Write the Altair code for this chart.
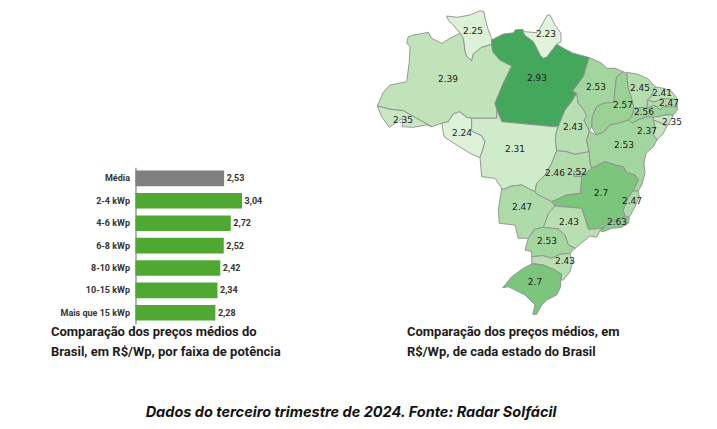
import altair as alt

# ---- bar chart values ----
FAIXAS = ["Média", "2-4 kWp", "4-6 kWp", "6-8 kWp", "8-10 kWp", "10-15 kWp", "Mais que 15 kWp"]
PRECOS = [2.53, 3.04, 2.72, 2.52, 2.42, 2.34, 2.28]

# ---- state values ----
UF = ["RR", "AP", "AM", "PA", "AC", "RO", "MT", "TO", "MA", "PI", "CE", "RN", "PB", "PE", "AL", "SE",
      "BA", "GO", "DF", "MG", "ES", "RJ", "SP", "MS", "PR", "SC", "RS"]
VALOR = [2.25, 2.23, 2.39, 2.93, 2.35, 2.24, 2.31, 2.43, 2.53, 2.57, 2.45, 2.41, 2.47, 2.56, 2.35, 2.37,
         2.53, 2.46, 2.52, 2.7, 2.47, 2.63, 2.43, 2.47, 2.53, 2.43, 2.7]

# state outlines and label anchors (map units)
CONTORNO = {
    "RR": [(446.7,16),(457,17.3),(470,15),(480,10.7),(484,11.7),(485,18),(488.3,30),(491.7,38.3),(491.7,44.3),(481.7,47.3),(473.3,54),(471.7,60.7),(466.7,56.7),(465,51.7),(463.3,38.3),(460,33.3),(453.3,25),(448.3,20)],
    "AP": [(522.3,29.3),(524.3,35),(533.3,41.7),(540,55),(543.3,58.3),(546.7,57.3),(556.7,44.3),(561,41.7),(561,33.3),(555,25),(550,15),(547.3,15),(540,28.3),(536.7,32.7),(525,31.7)],
    "AM": [(377.3,106),(383.3,92.3),(390,85),(406.7,81.7),(409.3,61.7),(410,46.7),(406.7,43.3),(408.3,36.7),(413.3,35),(423.3,33.3),(428.3,32.3),(431.7,38.3),(441.7,43.3),(450,38.3),(460,33.3),(463.3,38.3),(465,51.7),(466.7,56.7),(471.7,60.7),(473.3,54),(481.7,47.3),(491.7,44.3),(492.7,51.7),(500,60),(511.7,66),(503.3,83.3),(495,103.3),(497,110),(496.7,118.3),(471.7,118.3),(466.7,117.3),(459.3,111.7),(453.3,114),(448.3,121.7),(441.7,123.3),(431.7,126.7),(416.7,118.3),(403.3,110.7),(390,109.3)],
    "PA": [(491.7,40),(503.3,34),(514,32.7),(515,30),(522.3,29.3),(524.3,35),(533.3,41.7),(540,55),(543.3,58.3),(546.7,57.3),(556.7,44.3),(566.7,50),(573.3,53.3),(589.3,57.5),(583.3,76.7),(572.7,91),(576.7,93.3),(571.7,101.7),(565,110),(558.3,126.7),(553.3,126.7),(501.7,121.7),(497,110),(495,103.3),(503.3,83.3),(511.7,66),(500,60),(492.7,51.7),(491.7,44.3)],
    "AC": [(377.3,106),(381.7,116.7),(389.3,127.3),(402.3,118.3),(402.3,126.7),(413.3,127.3),(426.7,125),(431.7,126.7),(416.7,118.3),(403.3,110.7),(390,109.3)],
    "RO": [(441.7,123.3),(444,136.7),(456.7,145),(470,153.3),(480,157.7),(482.7,150),(485,141.7),(481.7,135.7),(471.7,131),(471.7,118.3),(466.7,117.3),(459.3,111.7),(453.3,114),(448.3,121.7)],
    "MT": [(471.7,118.3),(496.7,118.3),(497,110),(501.7,121.7),(553.3,126.7),(558.3,126.7),(556,133.3),(555.3,140),(556.7,150.7),(551.7,163.3),(545,175),(536.7,183.3),(535,191.7),(530,189.3),(521.7,185),(511.7,186),(503.3,189.3),(501.7,188.3),(495,178.3),(481.7,176.7),(480,157.7),(482.7,150),(485,141.7),(481.7,135.7),(471.7,131)],
    "TO": [(576.7,93.3),(578.3,103.3),(585,111.7),(586.7,116.7),(584,120),(589.3,131),(586.7,140),(589,151.7),(575,154.3),(566.7,151.7),(556.7,150.7),(555.3,140),(556,133.3),(558.3,126.7),(565,110),(571.7,101.7)],
    "MA": [(589.3,57.5),(601.7,63.3),(606.7,68.3),(615,68.3),(623.3,71.7),(616.7,76.7),(615,88.3),(614,102.3),(603.3,103.3),(596.7,106.7),(592.3,116.7),(591.7,126.7),(589.3,131),(584,120),(586.7,116.7),(585,111.7),(578.3,103.3),(576.7,93.3),(572.7,91),(583.3,76.7)],
    "PI": [(623.3,71.7),(626.7,73.3),(628.3,88.3),(631.7,98.3),(634,108.3),(631.7,116.7),(628.3,120),(618.3,123.3),(610,125),(603.3,132.3),(596,135),(591.7,126.7),(592.3,116.7),(596.7,106.7),(603.3,103.3),(614,102.3),(615,88.3),(616.7,76.7)],
    "CE": [(626.7,72.3),(638.3,74.3),(648.3,79),(655,86.7),(651,97),(647.3,100),(647.3,108.3),(640,107.7),(634,108.3),(631.7,98.3),(628.3,88.3)],
    "RN": [(655,86.7),(663.3,88.3),(671,90.7),(676.7,97.7),(677,99.5),(666.7,99),(661.7,98.5),(655,102),(647.3,100),(651,97)],
    "PB": [(647.3,100),(655,102),(661.7,98.5),(677,99.5),(677.3,106.7),(663.3,106.7),(660,110),(657.3,106.7),(653.3,105.7),(647.3,108.3)],
    "PE": [(634,108.3),(640,107.7),(647.3,108.3),(653.3,105.7),(657.3,106.7),(660,110),(663.3,106.7),(677.3,106.7),(677.3,110),(673.3,115),(665,115),(658.3,116.7),(653.3,117),(647.3,116.7),(640,119),(632,123),(628.3,120),(631.7,116.7)],
    "AL": [(653.3,117),(658.3,116.7),(665,115),(673.3,115),(671,120),(666.7,126.7),(661.7,123.3),(653.3,120)],
    "SE": [(653.3,120),(661.7,123.3),(666.7,126.7),(663.3,133.3),(657,140),(653.3,135),(655,127)],
    "BA": [(589.3,131),(596,135),(603.3,132.3),(610,125),(618.3,123.3),(628.3,120),(632,123),(640,119),(647.3,116.7),(653.3,117),(653.3,120),(655,127),(653.3,135),(657,140),(653.3,146.7),(646,153.3),(644,163.3),(645,173.3),(641.7,185),(638.3,191),(632.7,191),(638.3,180),(635,175),(626.7,172.7),(623.3,166.7),(615,165),(605,161.7),(591.7,168.3),(590,163.3),(589,151.7),(586.7,140)],
    "GO": [(556.7,150.7),(566.7,151.7),(575,154.3),(589,151.7),(590,163.3),(591.7,168.3),(581.7,176.7),(580.7,193.3),(566.7,195),(551.7,201.7),(545,198.3),(536.7,194),(535,191.7),(536.7,183.3),(545,175),(551.7,163.3)],
    "DF": [(574,171.5),(581,171.5),(581,176.5),(574,176.5)],
    "MG": [(591.7,168.3),(605,161.7),(615,165),(623.3,166.7),(626.7,172.7),(635,175),(638.3,180),(632.7,191),(628.3,198),(623.3,210),(625,216),(618.3,220),(608.3,223.3),(603.3,228.3),(588.3,229.3),(585,218.3),(581.7,208.3),(555,206),(551.7,201.7),(566.7,195),(580.7,193.3),(581.7,176.7)],
    "ES": [(632.7,191),(638.3,191),(639.3,196.7),(635,206.7),(629.3,217.3),(625,216),(623.3,210),(628.3,198)],
    "RJ": [(625,216),(629.3,217.3),(628.3,223.3),(621.7,227.3),(611.7,228.3),(603.3,231.7),(600,230.7),(603.3,228.3),(608.3,223.3),(618.3,220)],
    "SP": [(555,206),(581.7,208.3),(585,218.3),(588.3,229.3),(603.3,228.3),(600,230.7),(596.7,237.3),(590,236),(576.7,247),(575,248.3),(568.3,245),(565,235),(558.3,229),(543.3,227.3),(548.3,213.3)],
    "MS": [(501.7,188.3),(503.3,189.3),(511.7,186),(521.7,185),(530,189.3),(535,191.7),(536.7,194),(545,198.3),(551.7,201.7),(555,206),(548.3,213.3),(543.3,227.3),(535,229),(528.3,238.3),(518.3,238.3),(515,225),(499.3,223.3),(498.3,210)],
    "PR": [(535,229),(543.3,227.3),(558.3,229),(565,235),(568.3,245),(575,248.3),(570,253.3),(560,254.3),(551.7,258.3),(543.3,255.7),(531.7,256.7),(531.7,251.7),(525,250),(528.3,238.3)],
    "SC": [(531.7,256.7),(543.3,255.7),(551.7,258.3),(560,254.3),(570,253.3),(572.3,263.3),(570,271.7),(563.3,280),(560.7,280),(561.7,274.3),(555,270),(543.3,265),(533.3,263.3),(531.7,263.3)],
    "RS": [(531.7,264),(543.3,265),(555,270),(561.7,274.3),(560.7,280),(560.7,286.7),(556.7,295),(546.7,300),(541.7,305),(536.7,314.3),(532.7,314.3),(535,305),(525,295),(515,290),(508.3,286.7),(502.7,287.7),(511.7,276.7),(523.3,268.3)],
}
ROTULO = {
    "RR": (473,31), "AP": (546,34), "AM": (448,79), "PA": (537,78), "AC": (403,120), "RO": (462,133),
    "MT": (515,149), "TO": (573,127), "MA": (596,87), "PI": (623,105), "CE": (640,88), "RN": (662,92.5),
    "PB": (669,103), "PE": (644,112), "AL": (672,122), "SE": (647,131), "BA": (624,145), "GO": (555,173),
    "DF": (577,172), "MG": (601,193), "ES": (632,201), "RJ": (617,222), "SP": (569,222), "MS": (522,207),
    "PR": (547,241), "SC": (565,261), "RS": (535,282),
}

CAPTION_LEFT = ["Comparação dos preços médios do", "Brasil, em R$/Wp, por faixa de potência"]
CAPTION_RIGHT = ["Comparação dos preços médios, em", "R$/Wp, de cada estado do Brasil"]
FOOTER = "Dados do terceiro trimestre de 2024. Fonte: Radar Solfácil"

W, H = 701, 413

features = []
for uf, v in zip(UF, VALOR):
    ring = [list(p) for p in CONTORNO[uf]]
    ring.append(ring[0])
    features.append({"type": "Feature", "properties": {"uf": uf, "v": v},
                     "geometry": {"type": "Polygon", "coordinates": [ring]}})

rotulos = [{"uf": u, "v": v, "lon": ROTULO[u][0], "lat": ROTULO[u][1]} for u, v in zip(UF, VALOR)]
barras = [{"faixa": f, "preco": p} for f, p in zip(FAIXAS, PRECOS)]

color_scale = alt.Scale(domain=[2.23, 2.7, 2.93], range=["#e0f3db", "#7cc57d", "#43a85c"])

mapa = alt.Chart(alt.Data(values=features)).mark_geoshape(stroke="#8f8f8f", strokeWidth=0.9, strokeJoin="round").encode(
    color=alt.Color("properties.v:Q", scale=color_scale, legend=None)
).project(type="identity", scale=1, translate=[-8, -8])

mapa_txt = alt.Chart(alt.Data(values=rotulos)).mark_text(
    font="DejaVu Sans", fontSize=9, color="#222222"
).encode(longitude="lon:Q", latitude="lat:Q", text=alt.Text("v:Q")).project(
    type="identity", scale=1, translate=[-8, -8])

y_enc = alt.Y("faixa:N", scale=alt.Scale(domain=FAIXAS, range=[159.2, 316], paddingInner=0.304, paddingOuter=0.152),
              title=None,
              axis=alt.Axis(offset=-127.5, ticks=False, domainColor="#9a9a9a", domainWidth=1.5,
                            labelFont="Roboto", labelFontWeight="bold", labelFontSize=9,
                            labelColor="#333333", labelPadding=6))
x_enc = alt.X("preco:Q", scale=alt.Scale(domain=[0, 3.04], range=[127.5, 234], nice=False), axis=None)

bars = alt.Chart(alt.Data(values=barras)).mark_bar(cornerRadius=0).encode(
    x=x_enc, y=y_enc,
    color=alt.condition(alt.datum.faixa == "Média", alt.value("#808080"), alt.value("#4fa832")),
)
bars_txt = alt.Chart(alt.Data(values=barras)).transform_calculate(
    lab="replace(format(datum.preco, '.2f'), '.', ',')"
).mark_text(align="left", dx=2.5, font="Roboto", fontWeight="bold", fontSize=9, color="#333333").encode(
    x=x_enc, y=y_enc, text="lab:N"
)

def caption(lines, px, py):
    return alt.Chart(alt.Data(values=[{"a": 1}])).mark_text(
        text=lines, align="left", baseline="top", font="Roboto", fontWeight="bold",
        fontSize=13, lineHeight=20, color="#1c1c1c"
    ).encode(x=alt.value(px), y=alt.value(py))

cap_l = caption(CAPTION_LEFT, 43, 318)
cap_r = caption(CAPTION_RIGHT, 399, 318)
foot = alt.Chart(alt.Data(values=[{"a": 1}])).mark_text(
    text=FOOTER, align="center", font="Inter", fontWeight="bold", fontStyle="italic", fontSize=14.5, color="#111111"
).encode(x=alt.value(343), y=alt.value(405))

chart = alt.layer(mapa, mapa_txt, bars, bars_txt, cap_l, cap_r, foot).properties(
    width=W, height=H, padding=0, background="white"
).configure_view(stroke=None)

chart.save("out.html", embed_options={"renderer": "svg", "actions": False})
